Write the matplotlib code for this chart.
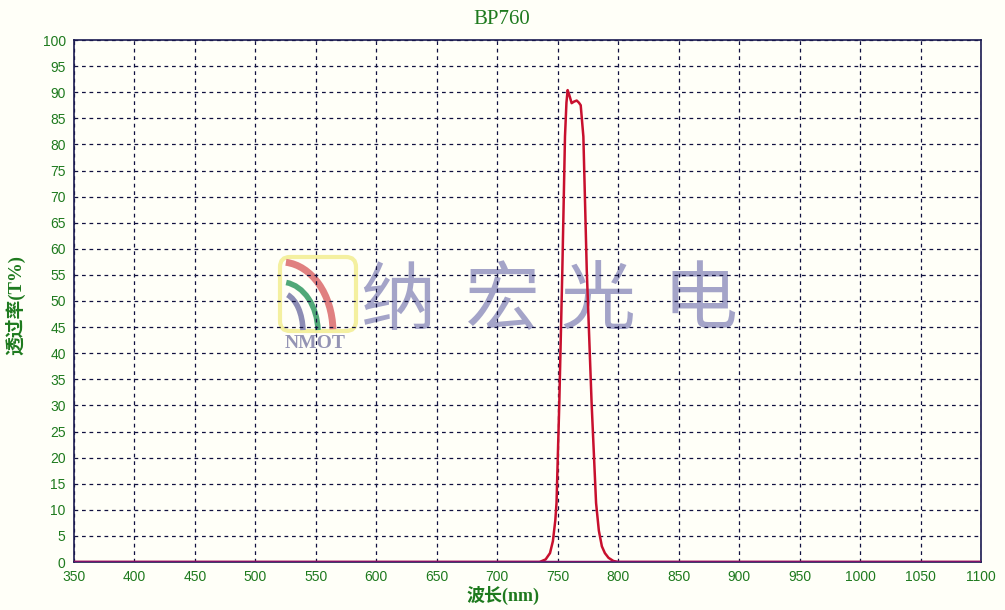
import matplotlib
matplotlib.use("Agg")
import matplotlib.pyplot as plt
from matplotlib.patches import FancyBboxPatch, Arc
import numpy as np

# ---- data ----
wavelength = [350, 735, 740, 743.6, 746, 748, 749, 751.3, 753.8, 756, 757.2, 758.2,
              759.5, 761.5, 763.5, 765.7, 767.5, 769, 771.2, 774, 778, 781.7, 784,
              786.5, 789, 792, 796, 800, 1100]
transmission = [0, 0, 0.5, 1.7, 4, 8, 11.3, 30.5, 55.9, 81.5, 88, 90.4,
                89.5, 87.9, 88.2, 88.4, 88.0, 87.5, 81.5, 55.9, 30.5, 11.3, 6,
                3, 1.7, 0.8, 0.2, 0, 0]
xticks = list(range(350, 1101, 50))
yticks = list(range(0, 101, 5))
title = "BP760"
xlabel = "波长(nm)"
ylabel = "透过率(T%)"
watermark = ["纳", "宏", "光", "电"]

green = "#1e7a1e"
bg = "#fffff8"
navy = "#1a1a50"

fig = plt.figure(figsize=(10.05, 6.10), dpi=100, facecolor=bg)

# overlay for watermark (pixel coords)
ov = fig.add_axes([0, 0, 1, 1], zorder=0)
ov.set_xlim(0, 1005)
ov.set_ylim(610, 0)
ov.axis("off")
ov.add_patch(FancyBboxPatch((280, 257), 76, 74, boxstyle="round,pad=0,rounding_size=10",
                            fill=False, ec="#f4f0a0", lw=3))
ov.add_patch(Arc((281, 332), 104, 140, theta1=-86, theta2=-3, color="#e08080", lw=5))
ov.add_patch(Arc((281, 332), 74, 100, theta1=-84, theta2=-3, color="#50a878", lw=4))
ov.add_patch(Arc((281, 332), 44, 78, theta1=-80, theta2=-5, color="#8c8cb4", lw=4))
ov.text(315, 343, "NMOT", ha="center", va="center", fontsize=14, fontweight="bold",
        family="Liberation Serif", color="#9494b4")
for ch, cx in zip(watermark, [398, 502, 598, 700]):
    ov.text(cx, 302, ch, ha="center", va="center", fontsize=54,
            family="Noto Sans CJK SC", color="#a4a4c8")

ax = fig.add_axes([74/1005, 1-562/610, 907/1005, 522/610], zorder=1)
ax.set_facecolor("none")
ax.plot(wavelength, transmission, color="#c8102e", lw=1.8, zorder=3)
ax.axhline(0, color="#80106a", lw=2.5, zorder=4)

ax.set_xlim(350, 1100)
ax.set_ylim(0, 100)
ax.set_xticks(xticks)
ax.set_yticks(yticks)
ax.set_xticklabels([str(v) for v in xticks])
ax.set_yticklabels([str(v) for v in yticks])
ax.tick_params(length=0, labelcolor=green, labelsize=10, pad=6)
for lab in ax.get_xticklabels() + ax.get_yticklabels():
    lab.set_family("Liberation Sans")
ax.grid(True, color="#101040", linestyle=(0, (3, 3)), lw=0.9)
for s in ax.spines.values():
    s.set_color(navy)
    s.set_linewidth(1.2)

fig.text(502/1005, 1-20/610, title, ha="center", va="center", fontsize=15,
         family="Liberation Serif", color=green)
fig.text(503/1005, 1-595/610, xlabel, ha="center", va="center", fontsize=13,
         family=["Liberation Serif", "Noto Sans CJK SC"], fontweight="bold", color=green)
fig.text(15/1005, 1-305/610, ylabel, ha="center", va="center", fontsize=13.5, rotation=90,
         family=["Liberation Serif", "Noto Sans CJK SC"], fontweight="bold", color=green)

fig.savefig("out.png", dpi=100, facecolor=bg)
